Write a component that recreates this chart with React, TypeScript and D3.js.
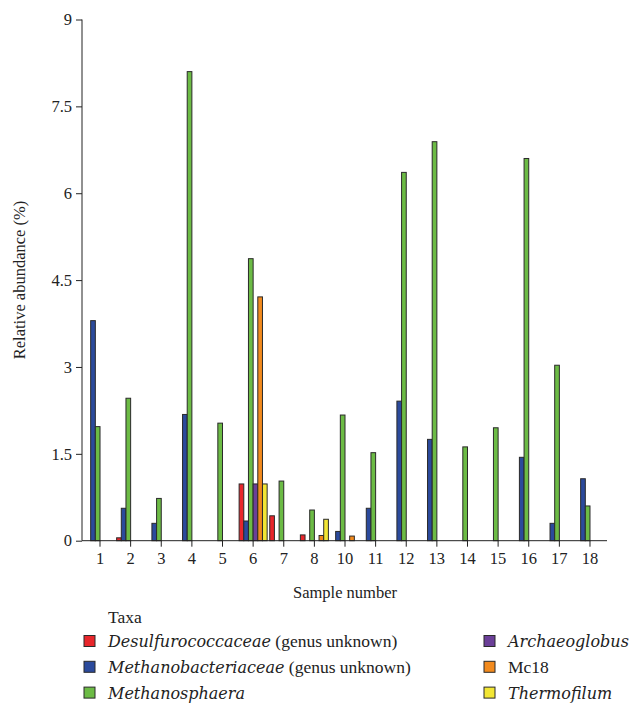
import * as d3 from "d3";
import { useEffect, useRef } from "react";

const samples = ["1", "2", "3", "4", "5", "6", "7", "8", "10", "11", "12", "13", "14", "15", "16", "17", "18"];
const seriesKeys = ["desulfuro", "methanobact", "methanosphaera", "archaeoglobus", "mc18", "thermofilum"];
const seriesColors = ["#e8262b", "#2b4a9c", "#6cbb45", "#6b3f98", "#f28a1d", "#f2e634"];

const desulfuro = [0, 0.05, 0, 0, 0, 0.98, 0.43, 0.1, 0, 0, 0, 0, 0, 0, 0, 0, 0];
const methanobact = [3.8, 0.56, 0.3, 2.18, 0, 0.34, 0, 0, 0.16, 0.56, 2.41, 1.75, 0, 0, 1.44, 0.3, 1.07];
const methanosphaera = [1.97, 2.46, 0.73, 8.1, 2.03, 4.87, 1.03, 0.53, 2.17, 1.52, 6.36, 6.89, 1.62, 1.95, 6.6, 3.03, 0.6];
const archaeoglobus = [0, 0, 0, 0, 0, 0.98, 0, 0, 0, 0, 0, 0, 0, 0, 0, 0, 0];
const mc18 = [0, 0, 0, 0, 0, 4.21, 0, 0.09, 0.08, 0, 0, 0, 0, 0, 0, 0, 0];
const thermofilum = [0, 0, 0, 0, 0, 0.98, 0, 0.37, 0, 0, 0, 0, 0, 0, 0, 0, 0];

const yTicks = [0, 1.5, 3, 4.5, 6, 7.5, 9];

const font = "'Liberation Serif', 'DejaVu Serif', serif";
const italicFont = "'DejaVu Serif', 'Liberation Serif', serif";

export default function App() {
    const chartRef = useRef<SVGSVGElement | null>(null);

    useEffect(() => {
        const width = 632;
        const height = 707;
        const axisX = 82;
        const axisRight = 607;
        const baseY = 540.7;
        const topY = 19.5;

        const values = [desulfuro, methanobact, methanosphaera, archaeoglobus, mc18, thermofilum];

        const svg = d3.select(chartRef.current);
        svg.selectAll("*").remove();
        svg.attr("width", width).attr("height", height);

        const x0 = d3.scaleBand<string>().domain(samples).range([84.7, 605.3]).padding(0);
        const x1 = d3.scaleBand<string>().domain(seriesKeys).range([1.3, x0.bandwidth() - 1.3]).padding(0);
        const y = d3.scaleLinear().domain([0, 9]).range([baseY, topY]);

        // bars
        const groups = svg.append("g")
            .selectAll("g")
            .data(samples)
            .join("g")
            .attr("transform", d => `translate(${x0(d)},0)`);

        groups.selectAll("rect")
            .data((_, i) => seriesKeys.map((k, j) => ({ k, j, v: values[j][i] })).filter(d => d.v > 0))
            .join("rect")
            .attr("x", d => x1(d.k)!)
            .attr("width", x1.bandwidth())
            .attr("y", d => y(d.v))
            .attr("height", d => baseY - y(d.v))
            .attr("fill", d => seriesColors[d.j])
            .attr("stroke", "#2a2a2a")
            .attr("stroke-width", 1);

        // y axis
        const yAxis = svg.append("g")
            .attr("transform", `translate(${axisX},0)`)
            .call(d3.axisLeft(y).tickValues(yTicks).tickFormat(d => String(d)).tickSize(6).tickPadding(4));
        yAxis.select(".domain").attr("stroke", "#222").attr("d", `M0,${topY}V${baseY}`);
        yAxis.selectAll("line").attr("stroke", "#222");
        yAxis.selectAll("text").attr("font-family", font).attr("font-size", 16.5).attr("fill", "#222");

        // x axis
        const xAxis = svg.append("g")
            .attr("transform", `translate(0,${baseY})`)
            .call(d3.axisBottom(x0).tickSize(6).tickPadding(6));
        xAxis.select(".domain").attr("stroke", "#222").attr("d", `M${axisX},0H${axisRight}`);
        xAxis.selectAll("line").attr("stroke", "#222");
        xAxis.selectAll("text").attr("font-family", font).attr("font-size", 16.5).attr("fill", "#222");

        svg.append("text")
            .attr("x", 345)
            .attr("y", 598)
            .attr("text-anchor", "middle")
            .attr("font-family", font)
            .attr("font-size", 16.5)
            .attr("fill", "#222")
            .text("Sample number");

        svg.append("text")
            .attr("transform", "translate(25,280) rotate(-90)")
            .attr("text-anchor", "middle")
            .attr("font-family", font)
            .attr("font-size", 16.5)
            .attr("fill", "#222")
            .text("Relative abundance (%)");

        // legend
        svg.append("text")
            .attr("x", 108).attr("y", 623)
            .attr("font-family", font).attr("font-size", 17.5).attr("fill", "#222")
            .text("Taxa");

        const legendItems = [
            { col: 0, row: 0, j: 0, parts: [["Desulfurococcaceae", true], [" (genus unknown)", false]] },
            { col: 0, row: 1, j: 1, parts: [["Methanobacteriaceae", true], [" (genus unknown)", false]] },
            { col: 0, row: 2, j: 2, parts: [["Methanosphaera", true]] },
            { col: 1, row: 0, j: 3, parts: [["Archaeoglobus", true]] },
            { col: 1, row: 1, j: 4, parts: [["Mc18", false]] },
            { col: 1, row: 2, j: 5, parts: [["Thermofilum", true]] },
        ];

        const legend = svg.append("g")
            .selectAll("g")
            .data(legendItems)
            .join("g")
            .attr("transform", d => `translate(${d.col === 0 ? 84 : 484},${641 + d.row * 25.8})`);

        legend.append("rect")
            .attr("x", 0).attr("y", -5.5)
            .attr("width", 11).attr("height", 11)
            .attr("fill", d => seriesColors[d.j])
            .attr("stroke", "#2a2a2a");

        legend.append("text")
            .attr("x", 24).attr("y", 6)
            .attr("font-size", 17.5).attr("fill", "#222")
            .selectAll("tspan")
            .data(d => d.parts)
            .join("tspan")
            .attr("font-family", d => (d[1] ? italicFont : font))
            .attr("font-size", d => (d[1] ? 16 : 17.5))
            .attr("font-style", d => (d[1] ? "italic" : "normal"))
            .text(d => d[0] as string);
    }, []);

    return (
        <svg ref={chartRef} style={{ position: "absolute", left: 0, top: 0, background: "#fff" }}></svg>
    );
}
